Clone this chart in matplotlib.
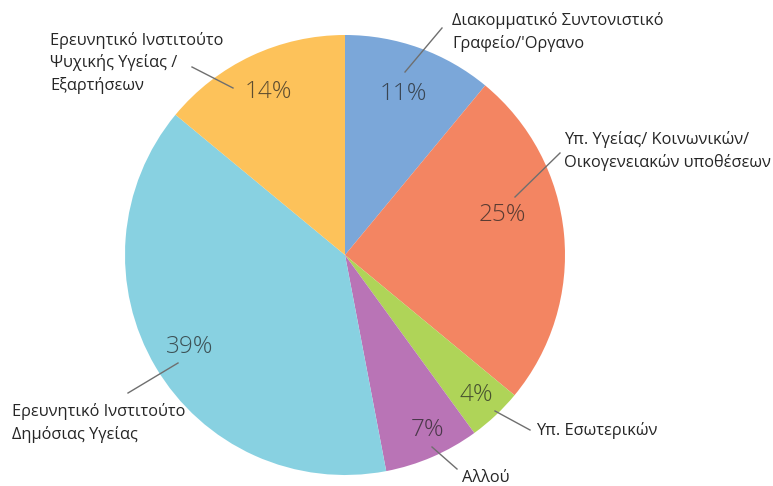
import matplotlib
matplotlib.use("Agg")
import matplotlib.pyplot as plt
import numpy as np

categories = ["Διακομματικό Συντονιστικό\nΓραφείο/'Οργανο",
              "Υπ. Υγείας/ Κοινωνικών/\nΟικογενειακών υποθέσεων",
              "Υπ. Εσωτερικών",
              "Αλλού",
              "Ερευνητικό Ινστιτούτο\nΔημόσιας Υγείας",
              "Ερευνητικό Ινστιτούτο\nΨυχικής Υγείας /\nΕξαρτήσεων"]
values = [11, 25, 4, 7, 39, 14]
pct_labels = ["11%", "25%", "4%", "7%", "39%", "14%"]

colors = ["#7BA7D9", "#F38562", "#AFD458", "#B974B6", "#88D1E1", "#FDC25A"]

W, H = 773, 486
fig = plt.figure(figsize=(W / 100, H / 100), dpi=100)
ax = fig.add_axes([0, 0, 1, 1])

cx, cy, R = 345, H - 255, 220
wedges, _ = ax.pie(values, colors=colors, startangle=90, counterclock=False,
                   center=(cx, cy), radius=R, frame=True,
                   wedgeprops=dict(linewidth=0))
ax.set_xlim(0, W)
ax.set_ylim(0, H)
ax.set_aspect("equal")
ax.axis("off")

# percent label placement: radial distance (fraction of radius), angle shift (deg)
pct_dist = [0.78, 0.74, 0.87, 0.88, 0.82, 0.82]
pct_shift = [0, 9, 0, 2, 0, 0]
for w, lab, d, s in zip(wedges, pct_labels, pct_dist, pct_shift):
    ang = np.deg2rad((w.theta1 + w.theta2) / 2 + s)
    x = cx + d * R * np.cos(ang)
    y = cy + d * R * np.sin(ang)
    ax.text(x, y, lab, ha="center", va="center", fontsize=17.5,
            family="Open Sans", fontweight="light", color="#202020", alpha=0.72)

# category labels (pixel positions, y measured from top) and leader lines
label_pos = [(452, 32, "left"), (564, 151, "left"), (536, 430, "left"),
             (462, 478, "left"), (12, 423, "left"), (50, 63, "left")]
leaders = [((405, 72), (442, 28)), ((515, 197), (560, 153)),
           ((495, 411), (530, 430)), ((432, 447), (457, 469)),
           ((178, 363), (128, 393)), ((233, 88), (192, 67))]
for (lx, ly, ha), cat, (p0, p1) in zip(label_pos, categories, leaders):
    ax.text(lx, H - ly, cat, ha=ha, va="center", fontsize=11.8,
            family="Open Sans", color="#262626", linespacing=1.45)
    ax.plot([p0[0], p1[0]], [H - p0[1], H - p1[1]], color="#6f6f6f", lw=1.0)

fig.savefig("out.png", dpi=100, facecolor="white")
